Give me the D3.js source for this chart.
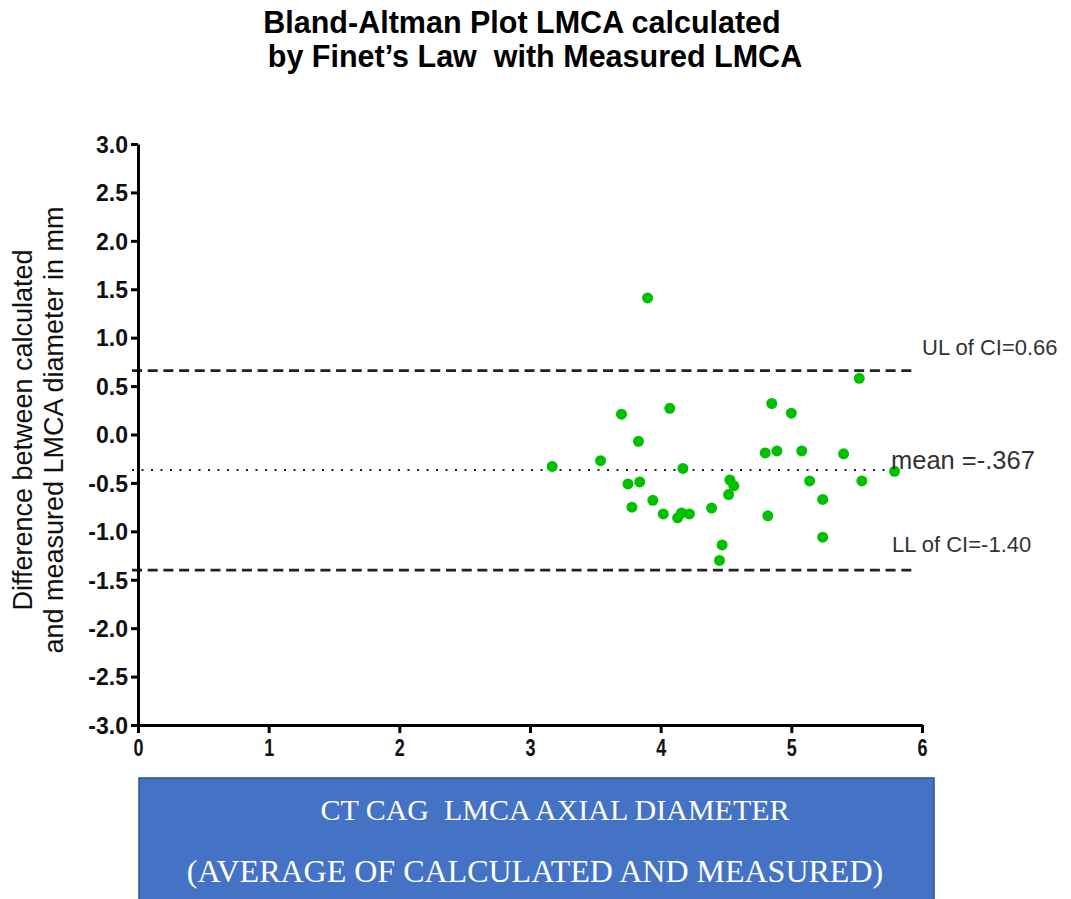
<meta charset="utf-8">
<title>Bland-Altman LMCA</title>
<style>
  body { margin: 0; background: #fff; }
  svg { display: block; }
  text { white-space: pre; }
</style>
<svg width="1071" height="899"></svg>
<script src="https://d3js.org/d3.v7.min.js"></script>
<script>

// average of calculated and measured (mm)
var avgVals = [3.17, 3.54, 3.70, 3.83, 4.07, 4.17, 3.75, 3.84, 4.53, 4.56,
               4.85, 5.00, 4.80, 4.89, 5.08, 5.40, 5.14, 5.54, 5.79, 3.78,
               3.94, 4.02, 4.13, 4.16, 4.22, 4.39, 4.52, 4.47, 4.45, 5.24,
               4.82, 5.24, 3.90, 5.52];
// difference calculated - measured (mm)
var diffVals = [-0.33, -0.27, 0.21, -0.07, 0.27, -0.35, -0.51, -0.49, -0.47, -0.53,
                0.32, 0.22, -0.19, -0.17, -0.17, -0.20, -0.48, -0.48, -0.38, -0.75,
                -0.68, -0.82, -0.86, -0.81, -0.82, -0.76, -0.62, -1.14, -1.30, -0.67,
                -0.84, -1.06, 1.41, 0.58];

var meanDiff = -0.367;
var upperLimit = 0.66;
var lowerLimit = -1.40;

var xTicks = [0, 1, 2, 3, 4, 5, 6];
var yTicks = [3.0, 2.5, 2.0, 1.5, 1.0, 0.5, 0.0, -0.5, -1.0, -1.5, -2.0, -2.5, -3.0];

var svg = d3.select("svg");
var sans = "'Liberation Sans', Arial, sans-serif";

var x = d3.scaleLinear().domain([0, 6]).range([138, 922]);
var y = d3.scaleLinear().domain([-3, 3]).range([725, 144]);

// title
svg.append("text")
    .attr("x", 522).attr("y", 33)
    .attr("text-anchor", "middle")
    .style("font", "bold 30.5px " + sans)
    .text("Bland-Altman Plot LMCA calculated");
svg.append("text")
    .attr("x", 535).attr("y", 67)
    .attr("text-anchor", "middle")
    .style("font", "bold 30.5px " + sans)
    .text("by Finet\u2019s Law  with Measured LMCA");

// reference lines
function refLine(val, x2, dash, w) {
    svg.append("line")
        .attr("x1", x(0) - 6).attr("x2", x2)
        .attr("y1", y(val)).attr("y2", y(val))
        .attr("stroke", "#222")
        .attr("stroke-width", w)
        .attr("stroke-dasharray", dash);
}
refLine(upperLimit, 916, "10,5.7", 2.8);
refLine(lowerLimit, 916, "10,5.7", 2.8);
refLine(meanDiff, 896, "2,7.5", 2);

// axes
var yAxis = d3.axisLeft(y).tickValues(yTicks).tickSize(7).tickSizeOuter(0);
var xAxis = d3.axisBottom(x).tickValues(xTicks).tickFormat(d3.format("d")).tickSize(8).tickSizeOuter(0);

var gy = svg.append("g").attr("transform", "translate(" + x(0) + ",0)").call(yAxis);
var gx = svg.append("g").attr("transform", "translate(0," + y(-3) + ")").call(xAxis);

[gy, gx].forEach(function(g) {
    g.select(".domain").attr("stroke", "#000").attr("stroke-width", 3);
    g.selectAll(".tick line").attr("stroke", "#000").attr("stroke-width", 3);
    g.selectAll(".tick text")
        .attr("fill", "#111")
        .style("font", "bold 23px " + sans);
});
gy.selectAll(".tick text")
    .attr("x", -10).attr("dy", "0.36em")
    .text(function(d) { return d.toFixed(1); });
gx.selectAll(".tick text")
    .attr("y", 14)
    .style("font", "bold 24px " + sans)
    .attr("transform", "scale(0.75,1)");

// points
svg.append("g")
    .selectAll("circle")
    .data(avgVals)
    .enter()
    .append("circle")
    .attr("cx", function(d) { return x(d); })
    .attr("cy", function(d, i) { return y(diffVals[i]); })
    .attr("r", 5.5)
    .attr("fill", "#00c000");

// annotations
svg.append("text")
    .attr("x", 922).attr("y", 355)
    .attr("fill", "#333")
    .style("font", "22px " + sans)
    .text("UL of CI=0.66");
svg.append("text")
    .attr("x", 891).attr("y", 469)
    .attr("fill", "#333")
    .style("font", "25.5px " + sans)
    .text("mean =-.367");
svg.append("text")
    .attr("x", 892).attr("y", 552)
    .attr("fill", "#333")
    .style("font", "22px " + sans)
    .text("LL of CI=-1.40");

// y label
var yl = svg.append("text")
    .attr("transform", "translate(0,430) rotate(-90)")
    .attr("text-anchor", "middle")
    .attr("fill", "#111")
    .style("font", "27px " + sans);
yl.append("tspan").attr("x", 0).attr("y", 32).text("Difference between calculated");
yl.append("tspan").attr("x", 0).attr("y", 63).text("and measured LMCA diameter in mm");

// x label box
svg.append("rect")
    .attr("x", 139).attr("y", 778)
    .attr("width", 795).attr("height", 130)
    .attr("fill", "#4472c4")
    .attr("stroke", "#2f528f")
    .attr("stroke-width", 1.5);
svg.append("text")
    .attr("x", 555).attr("y", 820)
    .attr("text-anchor", "middle")
    .attr("fill", "#fff")
    .style("font", "30px 'Liberation Serif', 'Times New Roman', serif")
    .text("CT CAG  LMCA AXIAL DIAMETER");
svg.append("text")
    .attr("x", 535).attr("y", 882)
    .attr("text-anchor", "middle")
    .attr("fill", "#fff")
    .style("font", "32px 'Liberation Serif', 'Times New Roman', serif")
    .text("(AVERAGE OF CALCULATED AND MEASURED)");

</script>
